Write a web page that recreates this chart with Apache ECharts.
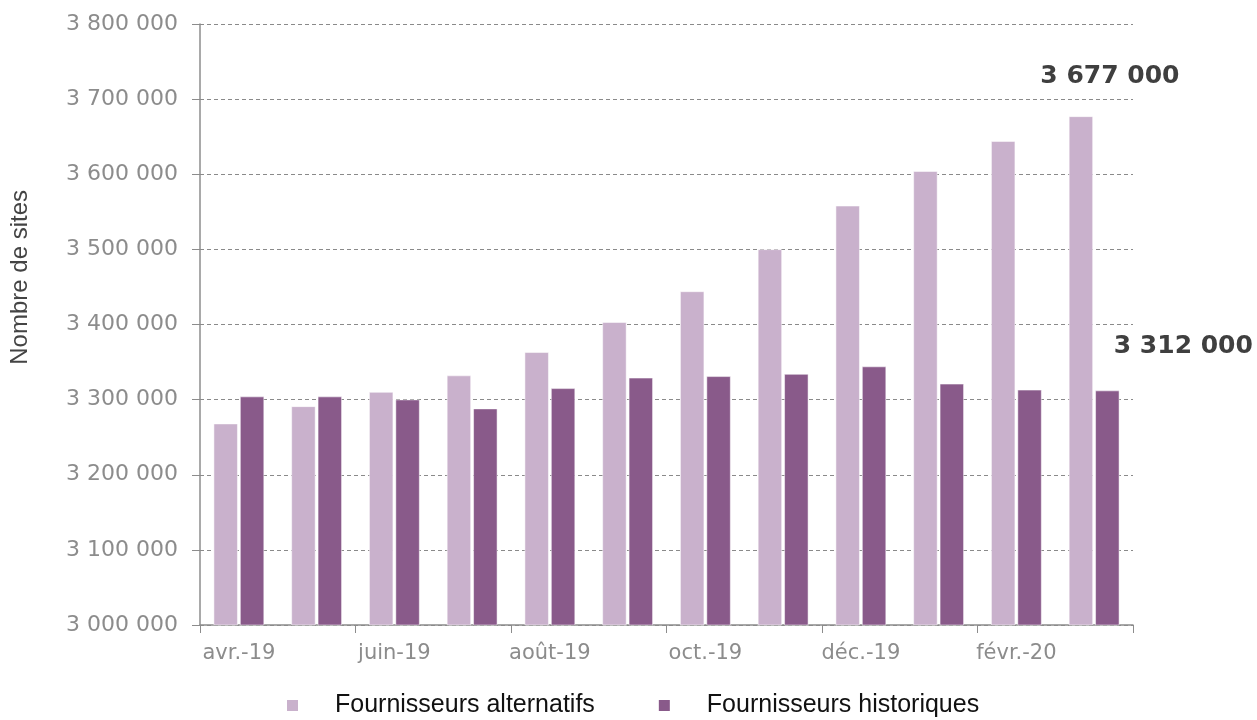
<!DOCTYPE html>
<html><head><meta charset="utf-8">
<script src="https://cdn.jsdelivr.net/npm/echarts@6/dist/echarts.min.js"></script>
<style>html,body{margin:0;padding:0;background:#fff}#c{width:1257px;height:720px}</style>
</head><body><div id="c"></div>
<script>
const categories = ['avr.-19','mai-19','juin-19','juil.-19','août-19','sept.-19','oct.-19','nov.-19','déc.-19','janv.-20','févr.-20','mars-20'];
const alternatifs = [3268000,3291000,3310000,3332000,3363000,3403000,3444000,3500000,3558000,3604000,3644000,3677000];
const historiques = [3304000,3304000,3300000,3288000,3315000,3329000,3331000,3334000,3344000,3321000,3313000,3312000];
const seriesNames = ['Fournisseurs alternatifs','Fournisseurs historiques'];
const yTitle = 'Nombre de sites';

function fmt(v){ return String(Math.round(v)).replace(/\B(?=(\d{3})+(?!\d))/g,' '); }
const FA = 'Liberation Sans, Arial, sans-serif';
const FD = 'DejaVu Sans, sans-serif';
const lastIdx = categories.length - 1;
const lbl = (ox,oy)=>({show:true,position:'top',offset:[ox,oy],formatter:p=>fmt(p.value),fontFamily:FD,fontSize:25,fontWeight:'bold',color:'#3f3f3f'});

const chart = echarts.init(document.getElementById('c'), null, {renderer:'canvas'});
chart.setOption({
  animation:false,
  backgroundColor:'#fff',
  grid:{left:200,right:124,top:24,bottom:95,containLabel:false},
  legend:{
    top:688, left:280, padding:[5,5,5,5], icon:'rect', itemWidth:13, itemHeight:13, itemGap:62,
    textStyle:{fontFamily:FA,fontSize:25,color:'#111',padding:[0,0,0,31]},
    data:seriesNames
  },
  graphic:[{type:'text',left:8,top:190,rotation:Math.PI/2,
    style:{text:yTitle,font:'24px '+FA,fill:'#444'}}],
  xAxis:{
    type:'category',data:categories,
    axisLine:{lineStyle:{color:'#8c8c8c',width:1.5}},
    axisTick:{show:true,interval:1,length:8,lineStyle:{color:'#8c8c8c'}},
    axisLabel:{interval:1,margin:18,fontFamily:FD,fontSize:21,color:'#8c8c8c'}
  },
  yAxis:{
    type:'value',min:3000000,max:3800000,interval:100000,
    axisLine:{show:true,lineStyle:{color:'#8c8c8c',width:1.5}},
    axisTick:{show:true,length:8,lineStyle:{color:'#8c8c8c'}},
    axisLabel:{margin:22,fontFamily:FD,fontSize:22,color:'#8c8c8c',formatter:fmt},
    splitLine:{show:true,lineStyle:{color:'#8a8a8a',type:[4,3],width:1}}
  },
  series:[
    {name:seriesNames[0],type:'bar',data:alternatifs.map((v,i)=>i===lastIdx?{value:v,label:lbl(29,-22)}:v),
     barWidth:24,barGap:'10%',itemStyle:{color:'#C9B1CC',borderColor:'#fff',borderWidth:0.5}},
    {name:seriesNames[1],type:'bar',data:historiques.map((v,i)=>i===lastIdx?{value:v,label:lbl(76,-27)}:v),
     barWidth:24,itemStyle:{color:'#895A8A',borderColor:'#fff',borderWidth:0.5}}
  ]
});
</script></body></html>
